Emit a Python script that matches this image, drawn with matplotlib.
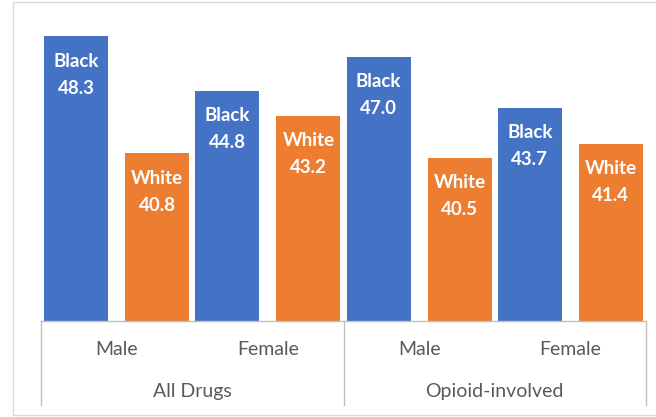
import matplotlib
matplotlib.use("Agg")
import matplotlib.pyplot as plt
from matplotlib.patches import Rectangle
from matplotlib.lines import Line2D

# Data
groups = ["All Drugs", "Opioid-involved"]
sexes = ["Male", "Female"]
races = ["Black", "White"]
black_vals = [48.3, 44.8, 47.0, 43.7]   # Male/Female for All Drugs, then Opioid-involved
white_vals = [40.8, 43.2, 40.5, 41.4]

BLUE = "#4472C4"
ORANGE = "#ED7D31"
TEXT = "#595959"
GRID = "#BFBFBF"
FONT = "Lato"

W, H = 656, 417
fig = plt.figure(figsize=(W / 100, H / 100), dpi=100)
fig.patch.set_facecolor("white")

# outer chart frame
fig.add_artist(Rectangle((13 / W, 1 - 415 / H), (W + 10 - 13) / W, (415 - 2) / H,
                         transform=fig.transFigure, fill=False,
                         edgecolor="#D9D9D9", linewidth=1.0))

# plot area: x from 41px to 646px, y from 10px to 321px
left, right, top, bottom = 41, 646, 10, 321
ax = fig.add_axes([left / W, 1 - bottom / H, (right - left) / W, (bottom - top) / H])
ax.set_xlim(0, 4)
ax.set_ylim(30, 50)
ax.axis("off")
units_per_px = 20 / (bottom - top)

offset = 0.268
width = 0.423
n_cat = len(black_vals)
xs = [i + 0.5 for i in range(n_cat)]

bars_b = ax.bar([x - offset for x in xs], [v - 30 for v in black_vals], bottom=30,
                width=width, color=BLUE, zorder=2)
bars_w = ax.bar([x + offset for x in xs], [v - 30 for v in white_vals], bottom=30,
                width=width, color=ORANGE, zorder=2)

# data labels inside the top of each bar
for bars, vals, race in ((bars_b, black_vals, races[0]), (bars_w, white_vals, races[1])):
    for rect, v in zip(bars, vals):
        cx = rect.get_x() + rect.get_width() / 2
        ax.annotate(race, (cx, v), xytext=(0, -25), textcoords="offset pixels",
                    ha="center", va="center", color="white", fontsize=13.5,
                    fontweight="bold", family=FONT)
        ax.annotate(f"{v:.1f}", (cx, v), xytext=(0, -52), textcoords="offset pixels",
                    ha="center", va="center", color="white", fontsize=13.5,
                    fontweight="bold", family=FONT)

# category axis: baseline and group separators
ax.add_line(Line2D([0, 4], [30, 30], color=GRID, linewidth=1.0, clip_on=False, zorder=3))
sep_bottom = 30 - (405 - bottom) * units_per_px
for xv in (0, 2, 4):
    ax.add_line(Line2D([xv, xv], [30, sep_bottom], color=GRID, linewidth=1.0, clip_on=False))

y_sex = 30 - (350 - bottom) * units_per_px
y_grp = 30 - (391 - bottom) * units_per_px
for i, x in enumerate(xs):
    ax.text(x, y_sex, sexes[i % 2], ha="center", va="center", color=TEXT,
            fontsize=14, family=FONT, clip_on=False)
for g, name in enumerate(groups):
    ax.text(2 * g + 1, y_grp, name, ha="center", va="center", color=TEXT,
            fontsize=14, family=FONT, clip_on=False)

fig.savefig("out.png", dpi=100)
